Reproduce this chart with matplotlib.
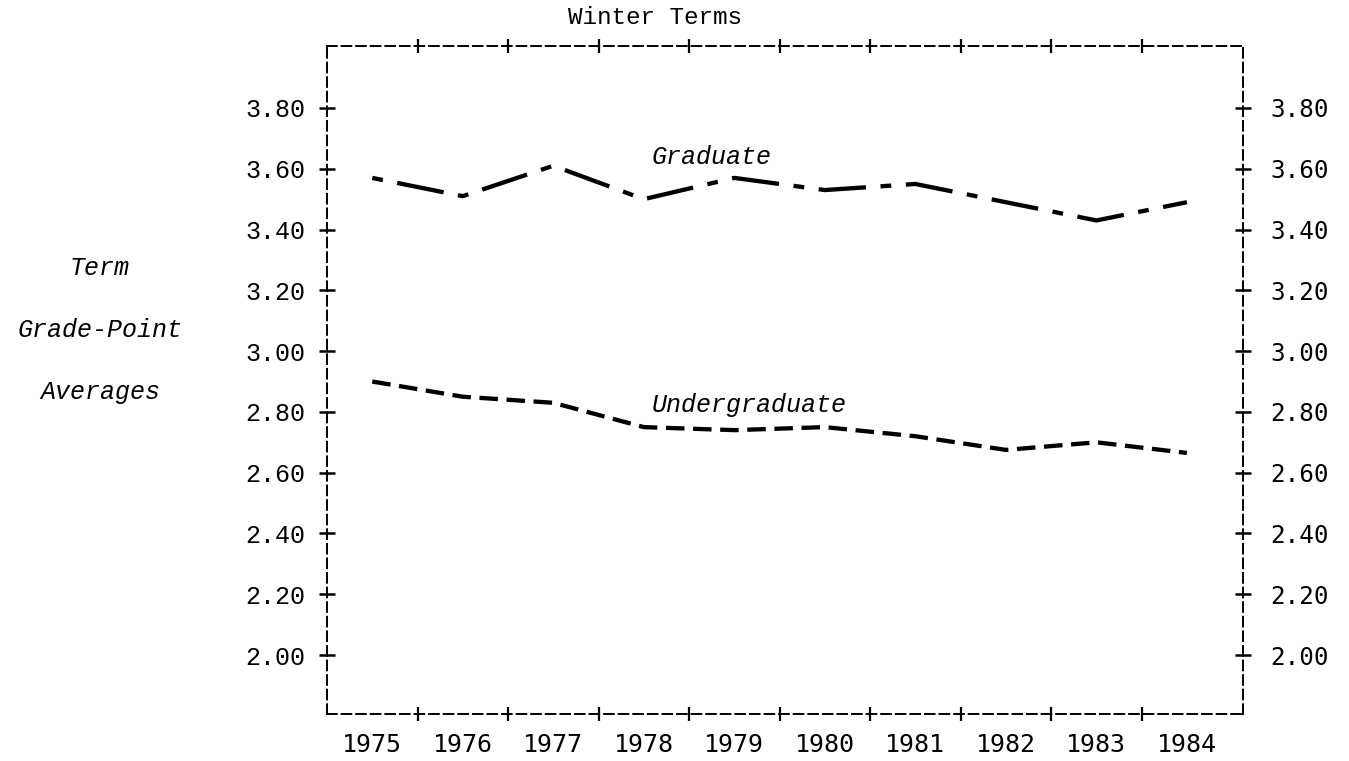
import matplotlib
matplotlib.use("Agg")
import matplotlib.pyplot as plt

years = [1975, 1976, 1977, 1978, 1979, 1980, 1981, 1982, 1983, 1984]
graduate = [3.57, 3.51, 3.61, 3.50, 3.57, 3.53, 3.55, 3.49, 3.43, 3.49]
undergraduate = [2.90, 2.85, 2.83, 2.75, 2.74, 2.75, 2.72, 2.675, 2.70, 2.665]
yticks = [2.00, 2.20, 2.40, 2.60, 2.80, 3.00, 3.20, 3.40, 3.60, 3.80]
title = "Winter Terms"
ylabel_lines = ["Term", "Grade-Point", "Averages"]

W, H = 1349, 761
fig = plt.figure(figsize=(W / 100, H / 100), dpi=100)
ax = fig.add_axes([327 / W, 1 - 714 / H, (1243 - 327) / W, (714 - 46) / H])

ax.plot(years, graduate, color="black", lw=3.1, linestyle=(0, (2.5, 3.4, 11, 3.4)),
        dash_capstyle="butt")
ax.plot(years, undergraduate, color="black", lw=3.1, linestyle=(0, (4.3, 2.0)),
        dash_capstyle="butt")

ax.set_xlim(1974.5, 1984.62)
ax.set_ylim(1.806, 4.004)

for s in ax.spines.values():
    s.set_linestyle((0, (5, 2.5)))
    s.set_linewidth(1.4)

# x axis: year labels at centres, '+' marks between years
ax.set_xticks(years)
ax.set_xticklabels([str(y) for y in years], fontfamily="DejaVu Sans Mono", fontsize=18)
ax.tick_params(axis="x", which="major", length=0, pad=14)
ax.set_xticks([y + 0.5 for y in years[:-1]], minor=True)
ax.tick_params(axis="x", which="minor", direction="inout", length=10, width=1.6,
               top=True, bottom=True)

# y axis left
ax.set_yticks(yticks)
ax.set_yticklabels([f"{v:.2f}" for v in yticks], fontfamily="Liberation Mono", fontsize=18)
ax.tick_params(axis="y", which="major", direction="inout", length=11, width=1.8,
               left=True, right=True, pad=10)

# y axis right labels
ax2 = ax.twinx()
ax2.set_ylim(ax.get_ylim())
for s in ax2.spines.values():
    s.set_visible(False)
ax2.set_yticks(yticks)
ax2.set_yticklabels([f"{v:.2f}" for v in yticks], fontfamily="DejaVu Sans Mono", fontsize=17.5)
ax2.tick_params(axis="y", direction="inout", length=11, width=1.8, pad=14)

ax.text(1978.09, 3.639, "Graduate", fontfamily="Liberation Mono", fontstyle="italic",
        fontsize=18, ha="left", va="center")
ax.text(1978.09, 2.823, "Undergraduate", fontfamily="Liberation Mono", fontstyle="italic",
        fontsize=18, ha="left", va="center")

fig.text(655 / W, 1 - 18 / H, title, fontfamily="Liberation Mono", fontsize=17.5,
         ha="center", va="center")
for i, line in enumerate(ylabel_lines):
    fig.text(100 / W, 1 - (268 + 62 * i) / H, line, fontfamily="Liberation Mono",
             fontstyle="italic", fontsize=18, ha="center", va="center")

fig.savefig("out.png", dpi=100, facecolor="white")
